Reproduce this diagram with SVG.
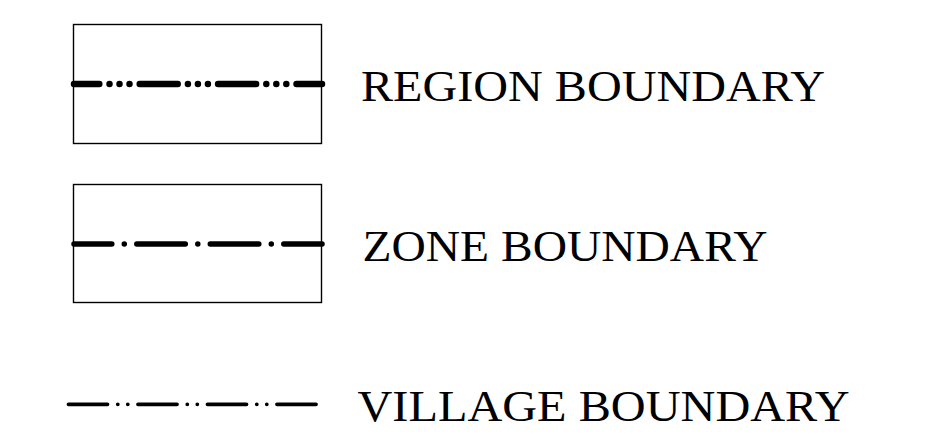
<svg xmlns="http://www.w3.org/2000/svg" width="946" height="440" viewBox="0 0 946 440">
<style>
.box{fill:none;stroke:#000;stroke-width:1.4}
.ln{fill:none;stroke:#000;stroke-linecap:round}
.lbl{font-family:"Liberation Serif","Times New Roman",serif;font-size:44px;fill:#000}
</style>
<rect width="946" height="440" fill="#fff"/>
<g id="region">
<rect class="box" x="73.5" y="24.5" width="248" height="119"/>
<path class="ln" d="M74 84H322" stroke-width="6.5" stroke-dasharray="38 10.2 0 10 0 10 0 10.2" stroke-dashoffset="12.7"/>
<text class="lbl" x="361" y="100.7" textLength="464" lengthAdjust="spacingAndGlyphs">REGION BOUNDARY</text>
</g>
<g id="zone">
<rect class="box" x="73.5" y="184.5" width="248" height="118"/>
<path class="ln" d="M74 244H322" stroke-width="5.5" stroke-dasharray="48.5 12.5 0 12.5" stroke-dashoffset="10.7"/>
<text class="lbl" x="362.5" y="260.7" textLength="405" lengthAdjust="spacingAndGlyphs">ZONE BOUNDARY</text>
</g>
<g id="village">
<path class="ln" d="M68.5 404.3H316.5" stroke-width="3.8" stroke-dasharray="39 10.3 0 10 0 10.2"/>
<text class="lbl" x="357.5" y="420.7" textLength="492" lengthAdjust="spacingAndGlyphs">VILLAGE BOUNDARY</text>
</g>
</svg>
